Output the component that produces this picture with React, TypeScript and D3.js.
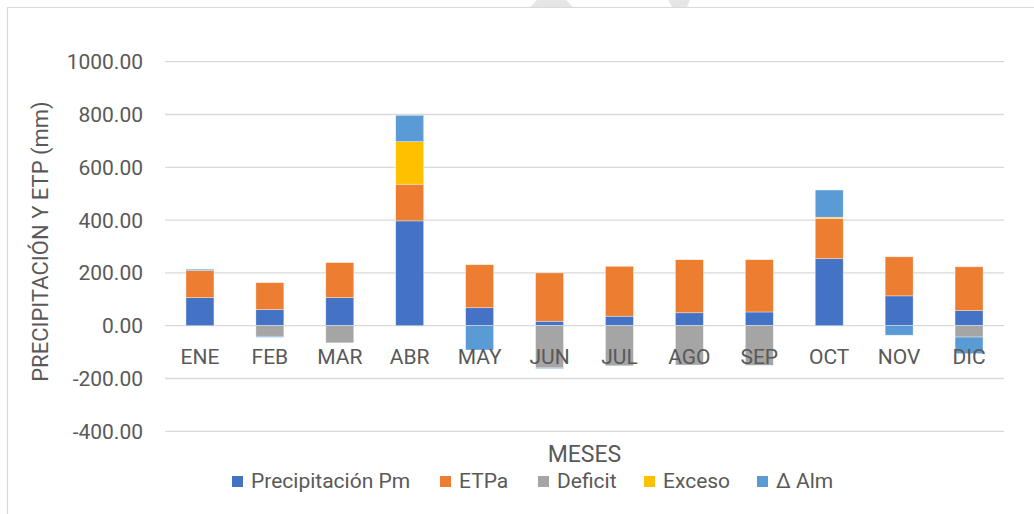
import { useEffect, useRef } from "react";
import * as d3 from "d3";

const months = ["ENE", "FEB", "MAR", "ABR", "MAY", "JUN", "JUL", "AGO", "SEP", "OCT", "NOV", "DIC"];
const precipitacion = [106, 61, 106, 397, 68, 17, 36, 49, 52, 254, 113, 57];
const etpa = [103, 102, 133, 139, 163, 183, 189, 201, 198, 152, 148, 166];
const deficit = [0, -40, -65, 0, 0, -160, -152, -149, -150, 0, 0, -43];
const exceso = [0, 0, 0, 161, 0, 0, 0, 0, 0, 5, 0, 0];
const deltaAlm = [5, -4, 0, 100, -92, -3, 0, 0, 0, 103, -36, -63];
const yTicks = [-400, -200, 0, 200, 400, 600, 800, 1000];

type SeriesKey = "pm" | "etpa" | "deficit" | "exceso" | "alm";

const seriesKeys: SeriesKey[] = ["pm", "etpa", "deficit", "exceso", "alm"];
const seriesLabels: Record<SeriesKey, string> = {
	pm: "Precipitación Pm",
	etpa: "ETPa",
	deficit: "Deficit",
	exceso: "Exceso",
	alm: "Δ Alm"
};
const palette: Record<SeriesKey, string> = {
	pm: "#4472C4",
	etpa: "#ED7D31",
	deficit: "#A5A5A5",
	exceso: "#FFC000",
	alm: "#5B9BD5"
};

type Row = { month: string } & Record<SeriesKey, number>;

const rows: Row[] = months.map((month, i) => ({
	month,
	pm: precipitacion[i],
	etpa: etpa[i],
	deficit: deficit[i],
	exceso: exceso[i],
	alm: deltaAlm[i]
}));

const textColor = "#595959";
const gridColor = "#D9D9D9";
const font = "Roboto, 'Liberation Sans', sans-serif";

// Excel shows a plain hyphen for negatives
const formatTick = (v: number) => d3.format(".2f")(v).replace("\u2212", "-");

export default function App() {
	const ref = useRef<SVGSVGElement>(null);

	useEffect(() => {
		if (!ref.current) return;
		const svg = d3.select(ref.current);
		svg.selectAll("*").remove();

		const width = 1034;
		const height = 514;
		const plot = { left: 165, right: 1004, top: 61.7, bottom: 431.3 };

		svg.append("rect").attr("width", width).attr("height", height).attr("fill", "#fff");

		// faint page watermark peeking over the top edge
		svg
			.append("path")
			.attr("d", "M530,7 L537,0 L566,0 L573,7 Z M672,7 L668,0 L690,0 L687,7 Z")
			.attr("fill", "#e6e6e6");

		// chart frame (cut off at right/bottom)
		svg
			.append("path")
			.attr("d", `M7.5,${height + 2} L7.5,7.5 L${width + 2},7.5`)
			.attr("fill", "none")
			.attr("stroke", gridColor)
			.attr("stroke-width", 1.2);

		const x = d3
			.scaleBand()
			.domain(months)
			.range([plot.left, plot.right])
			.paddingInner(0.6)
			.paddingOuter(0.3);

		const y = d3.scaleLinear().domain([-400, 1000]).range([plot.bottom, plot.top]);

		// gridlines
		svg
			.append("g")
			.selectAll("line")
			.data(yTicks)
			.join("line")
			.attr("x1", plot.left)
			.attr("x2", plot.right)
			.attr("y1", (d) => y(d))
			.attr("y2", (d) => y(d))
			.attr("stroke", gridColor)
			.attr("stroke-width", 1.3);

		// y tick labels
		svg
			.append("g")
			.selectAll("text")
			.data(yTicks)
			.join("text")
			.attr("x", 143)
			.attr("y", (d) => y(d))
			.attr("dy", "0.36em")
			.attr("text-anchor", "end")
			.attr("font-family", font)
			.attr("font-size", 21)
			.attr("fill", textColor)
			.text((d) => formatTick(d));

		const stacked = d3
			.stack<Row>()
			.keys(seriesKeys)
			.order(d3.stackOrderNone)
			.offset(d3.stackOffsetDiverging)(rows);

		svg
			.append("g")
			.selectAll("g")
			.data(stacked)
			.join("g")
			.attr("fill", (s) => palette[s.key as SeriesKey])
			.selectAll("rect")
			.data((s) => s.filter((seg) => seg[1] !== seg[0]))
			.join("rect")
			.attr("x", (seg) => x(seg.data.month) ?? 0)
			.attr("width", x.bandwidth())
			.attr("y", (seg) => y(Math.max(seg[0], seg[1])))
			.attr("height", (seg) => Math.abs(y(seg[0]) - y(seg[1])))
			.attr("stroke", "#fff")
			.attr("stroke-opacity", 0.6)
			.attr("stroke-width", 0.6);

		// category labels sit just under the zero line
		svg
			.append("g")
			.selectAll("text")
			.data(months)
			.join("text")
			.attr("x", (m) => (x(m) ?? 0) + x.bandwidth() / 2)
			.attr("y", y(0) + 38)
			.attr("text-anchor", "middle")
			.attr("font-family", font)
			.attr("font-size", 21)
			.attr("fill", textColor)
			.text((m) => m);

		// axis titles
		svg
			.append("text")
			.attr("transform", `translate(48,${(plot.top + plot.bottom) / 2 - 5}) rotate(-90)`)
			.attr("text-anchor", "middle")
			.attr("font-family", font)
			.attr("font-size", 22)
			.attr("fill", textColor)
			.text("PRECIPITACIÓN Y ETP (mm)");

		svg
			.append("text")
			.attr("x", (plot.left + plot.right) / 2)
			.attr("y", 462)
			.attr("text-anchor", "middle")
			.attr("font-family", font)
			.attr("font-size", 23)
			.attr("fill", textColor)
			.text("MESES");

		// legend
		const legendX = [232, 440, 538, 644, 757];
		const legend = svg
			.append("g")
			.selectAll("g")
			.data(seriesKeys)
			.join("g")
			.attr("transform", (_, i) => `translate(${legendX[i]},476)`);

		legend
			.append("rect")
			.attr("width", 11)
			.attr("height", 11)
			.attr("fill", (k) => palette[k]);

		legend
			.append("text")
			.attr("x", 19)
			.attr("y", 12)
			.attr("font-family", font)
			.attr("font-size", 21)
			.attr("fill", textColor)
			.text((k) => seriesLabels[k]);
	}, []);

	return (
		<svg
			ref={ref}
			width={1034}
			height={514}
			style={{ position: "absolute", left: 0, top: 0, display: "block" }}
		/>
	);
}
